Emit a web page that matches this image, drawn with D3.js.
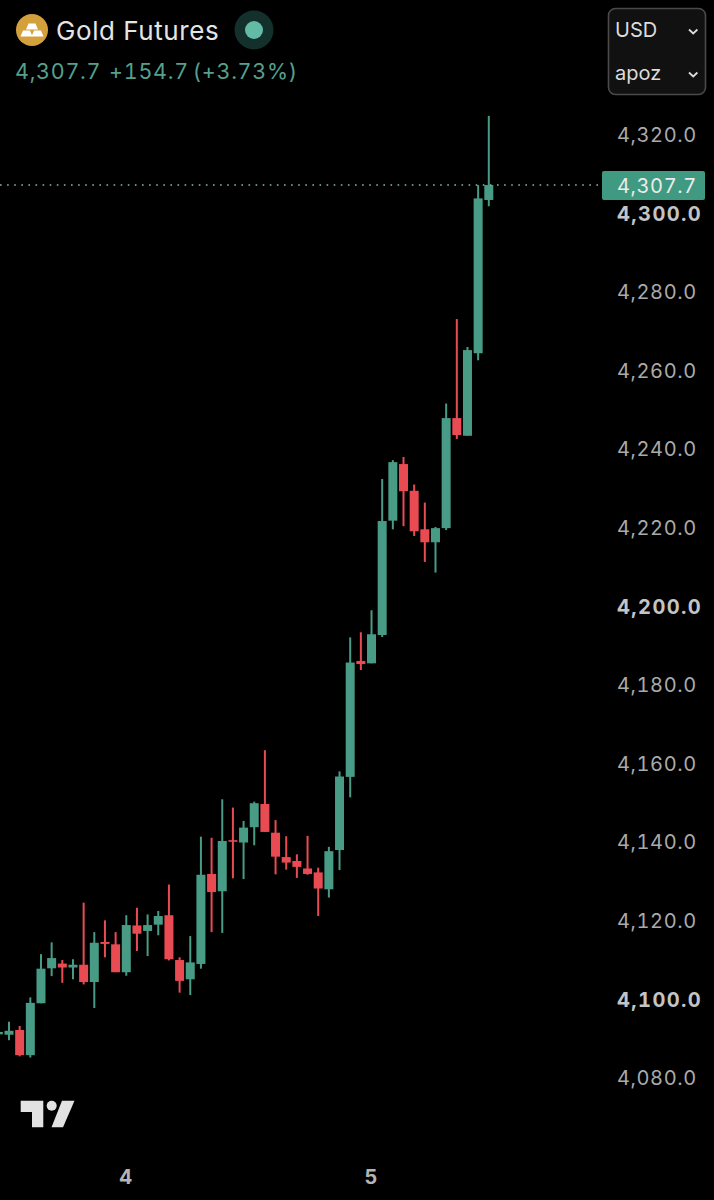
<!DOCTYPE html>
<html lang="en">
  <head>
    <meta charset="UTF-8" />
    <title>Gold Futures</title>
    <script src="https://d3js.org/d3.v7.min.js"></script>
    <style>
      html, body { margin: 0; padding: 0; background: #000; }
      svg { display: block; font-family: Inter, "Noto Sans", sans-serif; font-variant-numeric: tabular-nums; }
    </style>
  </head>
  <body>
    <svg width="714" height="1200"></svg>
    <script>
      // candles, index -1 is cut by the left edge
      const candleIndex = d3.range(-1, 46);
      const opens = [4091.6,4091.5,4092.7,4086.3,4099.5,4108.4,4109.6,4108.6,4109.3,4104.9,4115.1,4114.5,4107.4,4119.3,4117.9,4119.5,4121.9,4110.5,4105.6,4109.5,4132.4,4128.0,4141.0,4140.4,4144.3,4150.2,4142.9,4136.7,4135.7,4133.8,4132.8,4128.5,4138.5,4157.1,4186.6,4186.0,4193.2,4222.3,4236.7,4229.9,4220.1,4216.8,4220.4,4248.4,4243.9,4264.9,4303.9];
      const highs = [4092.4,4094.8,4093.7,4101.0,4112.0,4115.0,4110.5,4110.7,4125.1,4117.6,4120.6,4117.6,4121.9,4123.8,4122.1,4123.0,4129.7,4111.2,4116.6,4141.9,4141.6,4151.4,4149.3,4145.9,4150.8,4163.9,4146.1,4142.0,4137.4,4142.1,4134.0,4139.3,4158.5,4192.6,4193.9,4199.5,4232.9,4237.7,4238.5,4231.5,4226.9,4220.7,4252.1,4273.6,4266.5,4307.7,4325.3];
      const lows = [4091.4,4090.1,4086.0,4085.7,4099.5,4106.4,4104.7,4105.6,4104.3,4098.3,4111.2,4107.4,4106.5,4112.8,4111.5,4116.8,4110.4,4102.2,4101.6,4108.3,4117.6,4117.4,4131.3,4131.1,4139.7,4143.1,4132.3,4133.5,4131.4,4132.2,4121.7,4126.4,4133.4,4151.9,4184.3,4186.0,4192.7,4220.1,4220.9,4218.4,4211.8,4209.1,4219.9,4243.1,4243.9,4263.1,4302.3];
      const closes = [4092.2,4092.5,4086.3,4099.6,4108.3,4111.0,4108.6,4109.3,4104.9,4114.9,4114.6,4107.4,4119.4,4117.2,4119.4,4121.7,4110.7,4105.2,4109.9,4132.2,4127.8,4140.8,4140.6,4144.2,4150.4,4143.1,4136.8,4135.3,4134.2,4132.4,4128.7,4138.2,4157.2,4186.2,4185.8,4193.4,4222.2,4237.2,4229.8,4219.6,4216.8,4220.4,4248.4,4244.1,4265.7,4304.3,4307.7];

      const priceTicks = [4080,4100,4120,4140,4160,4180,4200,4220,4240,4260,4280,4300,4320];
      const boldTicks = [4100,4200,4300];
      const dayTicks = [11,34];
      const dayLabels = ["4","5"];
      const lastPrice = 4307.7;
      const titleText = "Gold Futures";
      const changeText = "4,307.7  +154.7 (+3.73%)";
      const menuLabels = ["USD","apoz"];

      const green = "#489b85";
      const red = "#e94b53";

      const svg = d3.select("svg");

      const x = d3.scaleLinear().domain([0, 45]).range([9, 488.8]);
      const y = d3.scaleLinear().domain([4080, 4320]).range([1079.9, 136.7]);
      const fmt = d3.format(",.1f");

      // candles
      const candles = svg.append("g").selectAll("g")
        .data(candleIndex)
        .enter().append("g")
        .attr("fill", (d, i) => closes[i] >= opens[i] ? green : red);
      candles.append("rect")
        .attr("x", d => x(d) - 1)
        .attr("width", 2)
        .attr("y", (d, i) => y(highs[i]))
        .attr("height", (d, i) => y(lows[i]) - y(highs[i]));
      candles.append("rect")
        .attr("x", d => x(d) - 4.5)
        .attr("width", 9)
        .attr("y", (d, i) => y(Math.max(opens[i], closes[i])))
        .attr("height", (d, i) => Math.max(1.6, Math.abs(y(opens[i]) - y(closes[i]))));

      // last price line and badge
      svg.append("line")
        .attr("x1", 0).attr("x2", 602)
        .attr("y1", y(lastPrice)).attr("y2", y(lastPrice))
        .attr("stroke", "#86b8aa")
        .attr("stroke-width", 1.6)
        .attr("stroke-dasharray", "1.6 5.5");

      // price axis
      const yAxis = d3.axisRight(y)
        .tickValues(priceTicks)
        .tickSize(0)
        .tickPadding(0)
        .tickFormat(fmt);
      const yG = svg.append("g")
        .attr("transform", "translate(617,-1.7)")
        .call(yAxis);
      yG.select(".domain").remove();
      yG.selectAll("text")
        .attr("fill", d => boldTicks.includes(d) ? "#c4c4c4" : "#aaaaaa")
        .attr("font-weight", d => boldTicks.includes(d) ? 700 : 400)
        .attr("font-size", 20)
        .attr("font-family", "Inter, sans-serif")
        .attr("letter-spacing", d => boldTicks.includes(d) ? 1.4 : 0.6);

      svg.append("rect")
        .attr("x", 602).attr("y", y(lastPrice) - 14)
        .attr("width", 103).attr("height", 29)
        .attr("rx", 2)
        .attr("fill", "#409a81");
      svg.append("text")
        .attr("x", 617).attr("y", y(lastPrice) + 0.5)
        .attr("dominant-baseline", "central")
        .attr("fill", "#ececec")
        .attr("font-size", 20)
        .attr("letter-spacing", 0.6)
        .text(fmt(lastPrice));

      // day axis
      const xAxis = d3.axisBottom(x)
        .tickValues(dayTicks)
        .tickSize(0)
        .tickPadding(0)
        .tickFormat((d, i) => dayLabels[i]);
      const xG = svg.append("g")
        .attr("transform", "translate(-1,1170)")
        .call(xAxis);
      xG.select(".domain").remove();
      xG.selectAll("text")
        .attr("fill", "#b4b4b4")
        .attr("font-weight", 700)
        .attr("font-size", 20)
        .attr("font-family", "Inter, sans-serif");

      // header
      svg.append("circle").attr("cx", 32).attr("cy", 30).attr("r", 16).attr("fill", "#d3a03c");
      const bars = [[32, 26.5], [26.5, 33.5], [37.5, 33.5]];
      svg.append("g").attr("fill", "#fff").selectAll("path")
        .data(bars)
        .enter().append("path")
        .attr("d", d => `M${d[0]-3.5} ${d[1]-3}h7l2.5 6h-12z`);

      svg.append("text")
        .attr("x", 56).attr("y", 40)
        .attr("fill", "#e4e4e4")
        .attr("font-size", 26)
        .attr("letter-spacing", 0.6)
        .attr("font-family", "Inter, sans-serif")
        .text(titleText);
      svg.append("circle").attr("cx", 254).attr("cy", 30).attr("r", 19.5).attr("fill", "#13302c");
      svg.append("circle").attr("cx", 254).attr("cy", 30).attr("r", 9).attr("fill", "#63bba6");

      svg.append("text")
        .attr("x", 15).attr("y", 79)
        .attr("fill", "#55a08c")
        .attr("font-size", 21.5)
        .attr("letter-spacing", 0.7)
        .attr("word-spacing", -2.5)
        .style("white-space", "pre")
        .text(changeText);

      // currency / unit box
      svg.append("rect")
        .attr("x", 608.5).attr("y", 8.5)
        .attr("width", 97).attr("height", 86)
        .attr("rx", 7)
        .attr("fill", "#111")
        .attr("stroke", "#4a4a4a")
        .attr("stroke-width", 1.6);
      menuLabels.forEach((label, i) => {
        const rowY = 30 + i * 43;
        svg.append("text")
          .attr("x", 615).attr("y", rowY)
          .attr("dominant-baseline", "central")
          .attr("fill", "#dcdcdc")
          .attr("font-size", 20)
          .text(label);
        svg.append("path")
          .attr("d", `M689 ${rowY - 0.5}l4.2 4l4.2 -4`)
          .attr("fill", "none")
          .attr("stroke", "#dcdcdc")
          .attr("stroke-width", 1.8);
      });

      // tradingview mark
      const logo = svg.append("g").attr("fill", "#e2e2e2");
      logo.append("path").attr("d", "M20.7 1100.7H43.3V1127.3H32V1112H20.7Z");
      logo.append("circle").attr("cx", 51.7).attr("cy", 1105.7).attr("r", 5);
      logo.append("path").attr("d", "M62 1100.7H74.5L63 1127.3H51.5Z");
    </script>
  </body>
</html>
